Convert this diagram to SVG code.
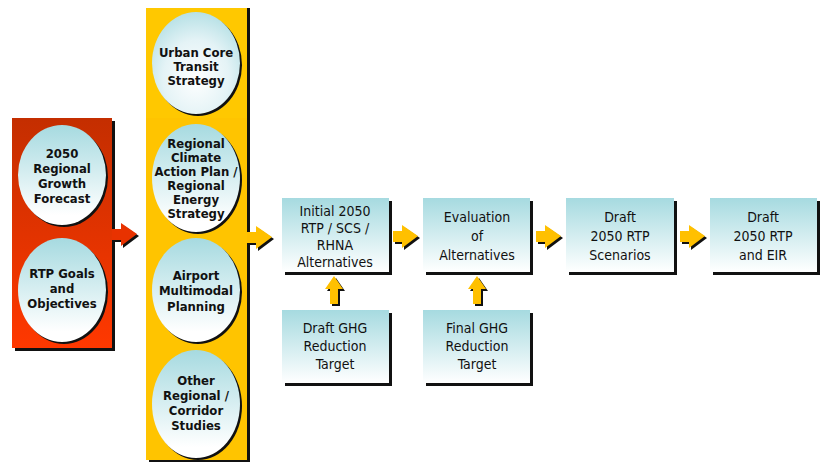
<svg xmlns="http://www.w3.org/2000/svg" width="820" height="462" viewBox="0 0 820 462">
<defs>
<linearGradient id="gRed" x1="0" y1="0" x2="0" y2="1"><stop offset="0" stop-color="#c42e00"/><stop offset="1" stop-color="#ff3800"/></linearGradient>
<linearGradient id="gBox" x1="0" y1="0" x2="0" y2="1"><stop offset="0" stop-color="#a6dae0"/><stop offset="1" stop-color="#ffffff"/></linearGradient>
<radialGradient id="gEll" cx="0.5" cy="0.65" r="0.75"><stop offset="0" stop-color="#ffffff"/><stop offset="0.5" stop-color="#e4f3f6"/><stop offset="1" stop-color="#a6dae0"/></radialGradient>
<linearGradient id="gEll2" x1="0" y1="0" x2="0" y2="1"><stop offset="0" stop-color="#a6dae0"/><stop offset="0.9" stop-color="#ffffff"/></linearGradient>
<path id="arrR" d="M0,-5 L9,-5 L9,-11 L25,0 L9,12 L9,6 L0,6 Z"/>
<path id="arrU" d="M-4,28 L-4,13 L-9,13 L0,0 L9,13 L4,13 L4,28 Z"/>
</defs>
<style>
.t{font-family:"Liberation Sans Narrow","DejaVu Sans Condensed","Liberation Sans",sans-serif;fill:#111;text-anchor:middle}
.e{font-size:13px;font-weight:bold}
.b{font-size:14px}
.sh{fill:#111}
.box{fill:url(#gBox)}
.ell{fill:url(#gEll2)}
.ya{fill:#ffc000}
</style>
<rect width="820" height="462" fill="#ffffff"/>

<g id="panel-red">
<rect x="15" y="121" width="100" height="230" class="sh"/>
<rect x="12" y="118" width="100" height="230" fill="url(#gRed)"/>
</g>
<g id="panel-yellow">
<rect x="149" y="8" width="101" height="454" class="sh"/>
<rect x="146" y="8" width="101" height="452" fill="#ffc400"/>
<rect x="146" y="8" width="101" height="110" fill="#ffc800"/>
</g>

<g id="connectors">
<use href="#arrR" x="114" y="236" class="sh"/>
<use href="#arrR" x="112" y="234" fill="#e83200"/>
<use href="#arrR" x="249" y="239" class="sh"/>
<use href="#arrR" x="247" y="237" class="ya"/>
<use href="#arrR" x="395" y="238" class="sh"/>
<use href="#arrR" x="393" y="236" class="ya"/>
<use href="#arrR" x="538" y="238" class="sh"/>
<use href="#arrR" x="536" y="236" class="ya"/>
<use href="#arrR" x="682" y="238" class="sh"/>
<use href="#arrR" x="680" y="236" class="ya"/>
<use href="#arrU" x="336" y="278" class="sh"/>
<use href="#arrU" x="334" y="276" class="ya"/>
<use href="#arrU" x="479" y="278" class="sh"/>
<use href="#arrU" x="477" y="276" class="ya"/>
</g>

<g id="n-growth">
<ellipse cx="64" cy="177" rx="44" ry="50" class="sh"/>
<ellipse cx="62" cy="175" rx="44" ry="50" class="ell"/>
<text class="t e"><tspan x="62" y="158">2050</tspan><tspan x="62" y="173">Regional</tspan><tspan x="62" y="188">Growth</tspan><tspan x="62" y="203">Forecast</tspan></text>
</g>
<g id="n-goals">
<ellipse cx="64" cy="292" rx="44" ry="52" class="sh"/>
<ellipse cx="62" cy="290" rx="44" ry="52" class="ell"/>
<text class="t e"><tspan x="62" y="278">RTP Goals</tspan><tspan x="62" y="293">and</tspan><tspan x="62" y="308">Objectives</tspan></text>
</g>

<g id="n-urban">
<ellipse cx="198" cy="65" rx="44" ry="51" class="sh"/>
<ellipse cx="196" cy="63" rx="44" ry="51" fill="url(#gEll)"/>
<text class="t e"><tspan x="196" y="57">Urban Core</tspan><tspan x="196" y="71">Transit</tspan><tspan x="196" y="85">Strategy</tspan></text>
</g>
<g id="n-climate">
<ellipse cx="198" cy="180" rx="44" ry="54" class="sh"/>
<ellipse cx="196" cy="178" rx="44" ry="54" class="ell"/>
<text class="t e"><tspan x="196" y="148">Regional</tspan><tspan x="196" y="162">Climate</tspan><tspan x="196" y="176">Action Plan /</tspan><tspan x="196" y="190">Regional</tspan><tspan x="196" y="204">Energy</tspan><tspan x="196" y="218">Strategy</tspan></text>
</g>
<g id="n-airport">
<ellipse cx="198" cy="292" rx="44" ry="52" class="sh"/>
<ellipse cx="196" cy="290" rx="44" ry="52" class="ell"/>
<text class="t e"><tspan x="196" y="280">Airport</tspan><tspan x="196" y="295">Multimodal</tspan><tspan x="196" y="311">Planning</tspan></text>
</g>
<g id="n-other">
<ellipse cx="198" cy="406" rx="44" ry="54" class="sh"/>
<ellipse cx="196" cy="404" rx="44" ry="54" class="ell"/>
<text class="t e"><tspan x="196" y="385">Other</tspan><tspan x="196" y="400">Regional /</tspan><tspan x="196" y="415">Corridor</tspan><tspan x="196" y="430">Studies</tspan></text>
</g>

<g id="n-initial">
<rect x="285" y="201" width="107" height="74" class="sh"/>
<rect x="282" y="198" width="107" height="74" class="box"/>
<text class="t b"><tspan x="335" y="216">Initial 2050</tspan><tspan x="335" y="233">RTP / SCS /</tspan><tspan x="335" y="250">RHNA</tspan><tspan x="335" y="267">Alternatives</tspan></text>
</g>
<g id="n-eval">
<rect x="426" y="201" width="107" height="74" class="sh"/>
<rect x="423" y="198" width="107" height="74" class="box"/>
<text class="t b"><tspan x="477" y="222">Evaluation</tspan><tspan x="477" y="241">of</tspan><tspan x="477" y="260">Alternatives</tspan></text>
</g>
<g id="n-scen">
<rect x="569" y="201" width="108" height="74" class="sh"/>
<rect x="566" y="198" width="108" height="74" class="box"/>
<text class="t b"><tspan x="620" y="222">Draft</tspan><tspan x="620" y="241">2050 RTP</tspan><tspan x="620" y="260">Scenarios</tspan></text>
</g>
<g id="n-eir">
<rect x="713" y="201" width="107" height="74" class="sh"/>
<rect x="710" y="198" width="107" height="74" class="box"/>
<text class="t b"><tspan x="763" y="222">Draft</tspan><tspan x="763" y="241">2050 RTP</tspan><tspan x="763" y="260">and EIR</tspan></text>
</g>
<g id="n-draftghg">
<rect x="285" y="313" width="107" height="73" class="sh"/>
<rect x="282" y="310" width="107" height="73" class="box"/>
<text class="t b"><tspan x="335" y="333">Draft GHG</tspan><tspan x="335" y="351">Reduction</tspan><tspan x="335" y="369">Target</tspan></text>
</g>
<g id="n-finalghg">
<rect x="426" y="313" width="107" height="73" class="sh"/>
<rect x="423" y="310" width="107" height="73" class="box"/>
<text class="t b"><tspan x="477" y="333">Final GHG</tspan><tspan x="477" y="351">Reduction</tspan><tspan x="477" y="369">Target</tspan></text>
</g>
</svg>
